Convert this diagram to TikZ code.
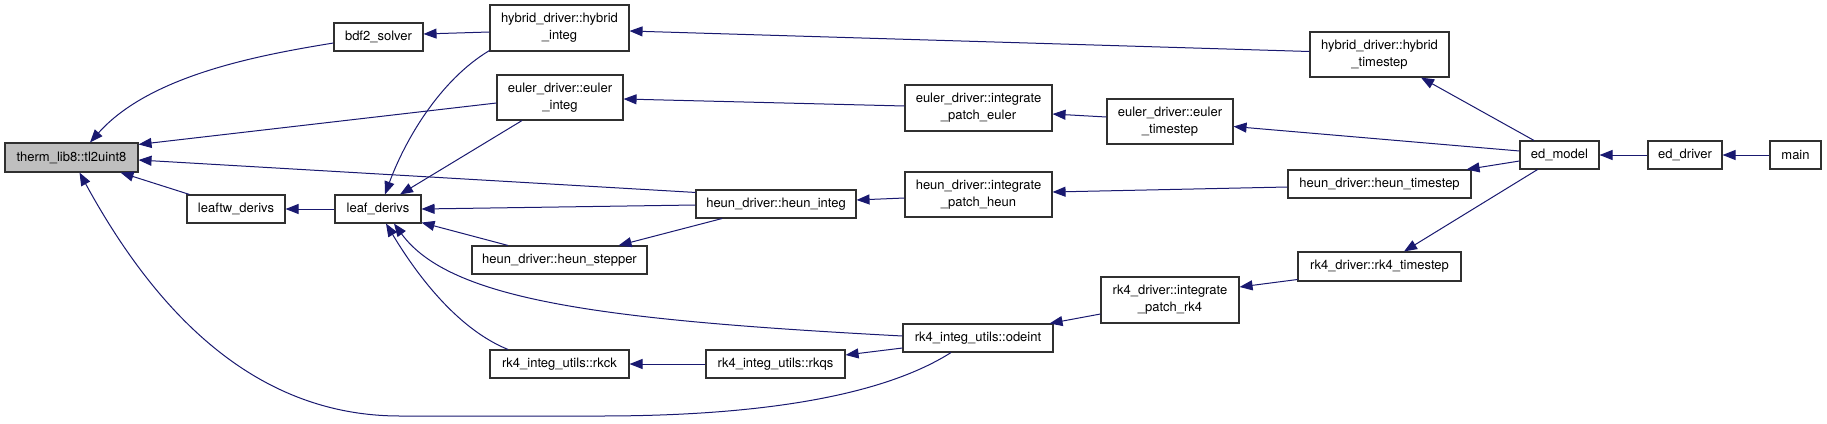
\documentclass[tikz,border=0pt]{standalone}
\usepackage{fontspec}
\setmainfont{TeX Gyre Heros}
\usetikzlibrary{arrows.meta,calc}
\definecolor{edgec}{HTML}{191970}
\definecolor{boxc}{HTML}{303030}
\definecolor{grayfill}{HTML}{BFBFBF}
\begin{document}
\begin{tikzpicture}[x=1pt,y=-1pt,
  box/.style={draw=boxc, line width=1.1pt, fill=white, inner sep=0pt, rectangle,
    font=\fontsize{13}{17}\selectfont, align=center},
  edge/.style={draw=edgec, line width=1pt, -{Triangle[length=13pt,width=10pt]}, fill=none}]
\fill[white] (0,0) rectangle (1827,423);
\useasboundingbox (0,0) rectangle (1827,423);
% nodes
\node[box, fill=grayfill, minimum width=133, minimum height=29] (therm) at (71.5,157.5) {therm\_lib8::tl2uint8};
\node[box, minimum width=89, minimum height=28] (bdf2) at (378.5,37) {bdf2\_solver};
\node[box, minimum width=139, minimum height=46] (hybint) at (559.5,28) {hybrid\_driver::hybrid\\\_integ};
\node[box, minimum width=126, minimum height=45] (eulint) at (560,97.5) {euler\_driver::euler\\\_integ};
\node[box, minimum width=98, minimum height=28] (leaftw) at (236,209) {leaftw\_derivs};
\node[box, minimum width=86, minimum height=28] (leaf) at (378,209) {leaf\_derivs};
\node[box, minimum width=175, minimum height=28] (stepper) at (559.5,260) {heun\_driver::heun\_stepper};
\node[box, minimum width=139, minimum height=28] (rkck) at (559.5,364) {rk4\_integ\_utils::rkck};
\node[box, minimum width=160, minimum height=28] (heunint) at (776,204) {heun\_driver::heun\_integ};
\node[box, minimum width=139, minimum height=28] (rkqs) at (775.5,364) {rk4\_integ\_utils::rkqs};
\node[box, minimum width=147, minimum height=46] (ipe) at (978.5,108) {euler\_driver::integrate\\\_patch\_euler};
\node[box, minimum width=147, minimum height=45] (iph) at (978.5,194.5) {heun\_driver::integrate\\\_patch\_heun};
\node[box, minimum width=150, minimum height=28] (odeint) at (978,338) {rk4\_integ\_utils::odeint};
\node[box, minimum width=126, minimum height=45] (eults) at (1170,121.5) {euler\_driver::euler\\\_timestep};
\node[box, minimum width=138, minimum height=46] (ipr) at (1170,300) {rk4\_driver::integrate\\\_patch\_rk4};
\node[box, minimum width=139, minimum height=45] (hybts) at (1379.5,54.5) {hybrid\_driver::hybrid\\\_timestep};
\node[box, minimum width=183, minimum height=28] (heunts) at (1379.5,184) {heun\_driver::heun\_timestep};
\node[box, minimum width=163, minimum height=29] (rkts) at (1379.5,266.5) {rk4\_driver::rk4\_timestep};
\node[box, minimum width=79, minimum height=28] (edmodel) at (1559.5,155) {ed\_model};
\node[box, minimum width=74, minimum height=28] (eddriver) at (1685,155) {ed\_driver};
\node[box, minimum width=51, minimum height=28] (main) at (1795.5,155) {main};
% edges into therm
\draw[edge] ($(bdf2.west)+(0,6)$) .. controls (260,55) and (150,75) .. ($(therm.north)+(18.5,0)$);
\draw[edge] ($(eulint.west)+(0,5.5)$) -- ($(therm.north east)+(0,2)$);
\draw[edge] ($(heunint.north west)+(0,3)$) -- ($(therm.east)+(0,2.5)$);
\draw[edge] ($(leaftw.north west)+(3,0)$) -- ($(therm.south east)+(-18,0)$);
\draw[edge] ($(odeint.south)+(-27,0)$) .. controls (900,385) and (800,416) .. (600,416)
  -- (400,416) .. controls (260,416) and (160,320) .. ($(therm.south)+(8,0)$);
% edges into leaftw
\draw[edge] (leaf.west) -- (leaftw.east);
% edges into leaf
\draw[edge] ($(hybint.south west)+(0,-1)$) .. controls (440,80) and (405,140) .. ($(leaf.north)+(7,0)$);
\draw[edge] ($(eulint.south)+(-38,0)$) -- ($(leaf.north)+(22,0)$);
\draw[edge] ($(heunint.west)+(0,1)$) -- (leaf.east);
\draw[edge] ($(stepper.north)+(-51.5,0)$) -- ($(leaf.south east)+(0,-1)$);
\draw[edge] ($(odeint.west)+(0,-2)$) .. controls (600,320) and (450,300) .. ($(leaf.south)+(16,0)$);
\draw[edge] ($(rkck.north)+(-51.5,0)$) .. controls (460,330) and (420,280) .. ($(leaf.south)+(8,0)$);
% other edges
\draw[edge] ($(hybint.west)+(0,4)$) -- ($(bdf2.east)+(0,-3)$);
\draw[edge] ($(hybts.west)+(0,-3)$) -- ($(hybint.east)+(0,3)$);
\draw[edge] ($(ipe.west)+(0,-2)$) -- ($(eulint.east)+(0,1.5)$);
\draw[edge] ($(eults.west)+(0,-4.5)$) -- ($(ipe.east)+(0,6)$);
\draw[edge] ($(edmodel.west)+(0,-4)$) -- ($(eults.east)+(0,5)$);
\draw[edge] ($(edmodel.north)+(-25.5,0)$) -- ($(hybts.south)+(41.5,0)$);
\draw[edge] ($(edmodel.west)+(0,6)$) -- ($(heunts.north east)+(-5,0)$);
\draw[edge] ($(edmodel.south)+(-22,0)$) -- ($(rkts.north)+(24.5,0)$);
\draw[edge] (eddriver.west) -- (edmodel.east);
\draw[edge] (main.west) -- (eddriver.east);
\draw[edge] ($(iph.west)+(0,3.5)$) -- ($(heunint.east)+(0,-4)$);
\draw[edge] ($(heunts.west)+(0,3)$) -- ($(iph.east)+(0,-2.5)$);
\draw[edge] ($(heunint.south)+(-54,0)$) -- ($(stepper.north east)+(-29,0)$);
\draw[edge] ($(ipr.west)+(0,14)$) -- ($(odeint.north east)+(-4,0)$);
\draw[edge] ($(rkts.west)+(0,13)$) -- ($(ipr.east)+(0,-13)$);
\draw[edge] ($(odeint.west)+(0,10)$) -- ($(rkqs.east)+(0,-9)$);
\draw[edge] (rkqs.west) -- (rkck.east);
\end{tikzpicture}
\end{document}
